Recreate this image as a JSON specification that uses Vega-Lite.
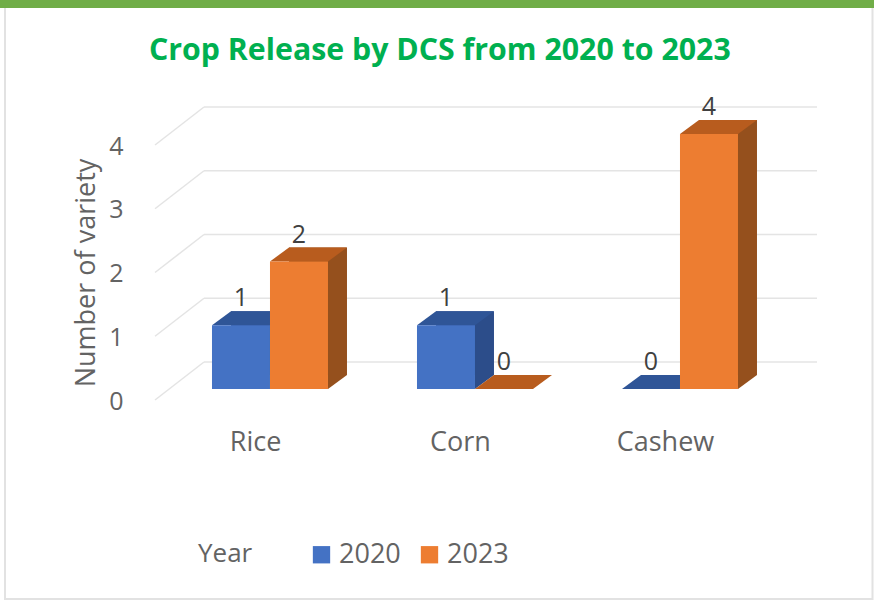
{
"$schema":"https://vega.github.io/schema/vega-lite/v6.json",
"width":615,"height":255,
"autosize":"none",
"padding":{"left":155,"top":145,"right":104,"bottom":201},
"background":"white",
"config":{"font":"Open Sans","view":{"stroke":null}},
"title":{"text":"Crop Release by DCS from 2020 to 2023","font":"Open Sans","fontSize":30.3,"fontWeight":"bold","color":"#00B050","anchor":"start","frame":"group","offset":0,"dy":66,"dx":-6},
"datasets":{
"bars":[
{"crop":"Rice","year":"2020","value":1},
{"crop":"Rice","year":"2023","value":2},
{"crop":"Corn","year":"2020","value":1},
{"crop":"Corn","year":"2023","value":0},
{"crop":"Cashew","year":"2020","value":0},
{"crop":"Cashew","year":"2023","value":4}],
"levels":[{"level":0},{"level":1},{"level":2},{"level":3},{"level":4}]
},
"layer":[
{"data":{"values":[{"frame":1}]},"mark":{"type":"rect","fill":null,"stroke":"#E2E2E2","strokeWidth":2},
 "encoding":{"x":{"value":-150},"x2":{"value":717.5},"y":{"value":-138},"y2":{"value":454}}},
{"data":{"values":[{"frame":1}]},"mark":{"type":"rule","color":"#70AD47","strokeWidth":8},
 "encoding":{"x":{"value":-155},"x2":{"value":719},"y":{"value":-141}}},
{"data":{"name":"levels"},"mark":{"type":"rule","color":"#E4E4E4","strokeWidth":1.5,"yOffset":-38},
 "encoding":{"x":{"value":49},"x2":{"value":662},"y":{"field":"level","type":"quantitative","scale":{"domain":[0,4]},
  "axis":{"title":"Number of variety","values":[0,1,2,3,4],"format":"d","grid":false,"domain":false,"ticks":false,"offset":24,"labelFontSize":25,"labelColor":"#636363","labelPadding":8,"labelOffset":1,"titleFontSize":27,"titleColor":"#636363","titleFontWeight":"normal","titlePadding":8}}}},
{"data":{"name":"levels"},"mark":{"type":"point","shape":"M0,0L49,-38","size":4,"filled":false,"stroke":"#E4E4E4","strokeWidth":1.5,"opacity":1,"clip":false},
 "encoding":{"x":{"value":0},"y":{"field":"level","type":"quantitative"}}},
{"data":{"name":"bars"},"transform":[{"filter":"datum.value>0"}],"mark":{"type":"bar","yOffset":-25,"orient":"vertical"},
 "encoding":{"x":{"field":"crop","type":"nominal","sort":["Rice","Corn","Cashew"],"scale":{"paddingInner":0.434,"paddingOuter":0.217},
   "axis":{"title":null,"domain":false,"ticks":false,"labelAngle":0,"labelFontSize":27,"labelColor":"#636363","labelPadding":29,"labelOffset":-2}},
  "xOffset":{"field":"year","type":"nominal","scale":{"type":"band","padding":0,"range":[31.5,147.5]}},
  "y":{"field":"value","type":"quantitative"},
  "color":{"field":"year","type":"nominal","legend":null,"scale":{"domain":["2020","2023"],"range":["#2C4D8A","#95501D"]}}}},
{"data":{"name":"bars"},"transform":[{"filter":"datum.value>0"}],"mark":{"type":"point","filled":true,"opacity":1,"shape":"M29,0L48,-14L29,-14Z","size":4,"yOffset":-11},
 "encoding":{"x":{"field":"crop","type":"nominal","sort":["Rice","Corn","Cashew"]},"xOffset":{"field":"year","type":"nominal","scale":{"type":"band","padding":0,"range":[12.5,128.5]}},
  "y":{"datum":0},
  "fill":{"field":"year","type":"nominal","legend":null,"scale":{"domain":["2020","2023"],"range":["#2C4D8A","#95501D"]}}}},
{"data":{"name":"bars"},"mark":{"type":"point","filled":true,"opacity":1,"shape":"M-29,0L29,0L48,-14L-10,-14Z","size":4,"yOffset":-11},
 "encoding":{"x":{"field":"crop","type":"nominal","sort":["Rice","Corn","Cashew"]},"xOffset":{"field":"year","type":"nominal","scale":{"type":"band","padding":0,"range":[12.5,128.5]}},
  "y":{"field":"value","type":"quantitative"},
  "fill":{"field":"year","type":"nominal","legend":null,"scale":{"domain":["2020","2023"],"range":["#2F5597","#B85C1E"]}}}},
{"data":{"name":"bars"},"transform":[{"filter":"datum.value>0"}],"mark":{"type":"bar","yOffset":-11,"orient":"vertical"},
 "encoding":{"x":{"field":"crop","type":"nominal","sort":["Rice","Corn","Cashew"]},"xOffset":{"field":"year","type":"nominal","scale":{"type":"band","padding":0,"range":[12.5,128.5]}},
  "y":{"field":"value","type":"quantitative"},
  "fill":{"field":"year","type":"nominal","scale":{"domain":["2020","2023"],"range":["#4472C4","#ED7D31"]},
   "legend":{"orient":"none","legendX":43,"legendY":396,"direction":"horizontal","title":"Year","titleOrient":"left","titleFontSize":26,"titleColor":"#636363","titleFontWeight":"normal","titlePadding":55,"labelFontSize":27,"labelColor":"#636363","symbolType":"square","symbolSize":300,"symbolStrokeWidth":0,"columnPadding":15,"labelOffset":4}}}},
{"data":{"name":"bars"},"mark":{"type":"text","fontSize":25,"color":"#404040","baseline":"middle","yOffset":-38},
 "encoding":{"x":{"field":"crop","type":"nominal","sort":["Rice","Corn","Cashew"]},"xOffset":{"field":"year","type":"nominal","scale":{"type":"band","padding":0,"range":[12.5,128.5]}},
  "y":{"field":"value","type":"quantitative"},
  "text":{"field":"value","type":"quantitative"}}}
],
"resolve":{"scale":{"fill":"independent","color":"independent","xOffset":"independent"}}
}
